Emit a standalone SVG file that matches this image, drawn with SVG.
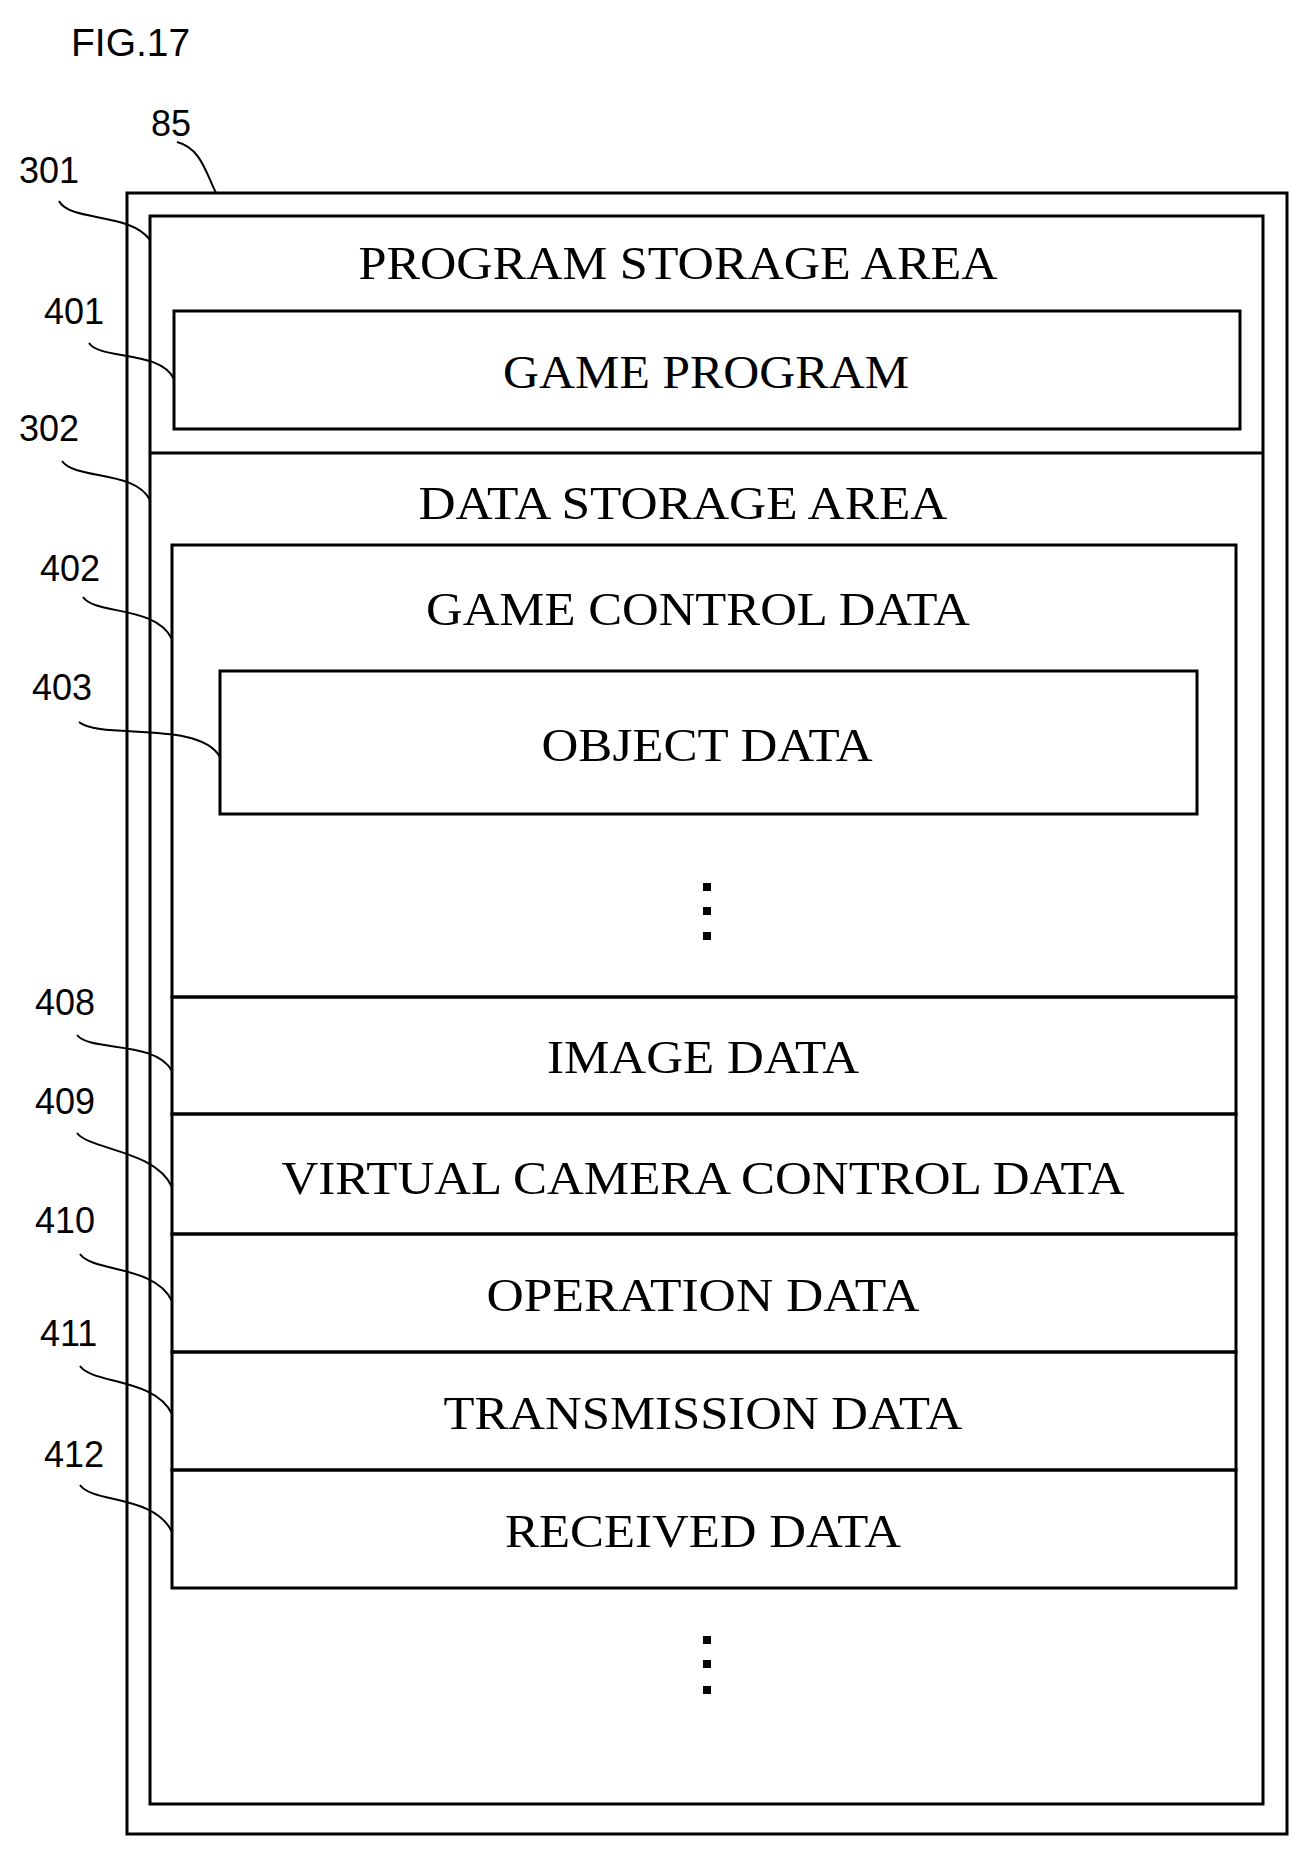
<svg xmlns="http://www.w3.org/2000/svg" width="1307" height="1852" viewBox="0 0 1307 1852">
<style>
.b{fill:none;stroke:#000;stroke-width:3}
.t{font-family:"Liberation Serif",serif;font-size:46px;text-anchor:middle}
.n{font-family:"Liberation Sans",sans-serif;font-size:36px}
.l{fill:none;stroke:#000;stroke-width:2}
</style>
<rect width="1307" height="1852" fill="#fff"/>
<text class="n" x="71" y="56" style="font-size:39px">FIG.17</text>
<g id="n85"><rect class="b" x="127" y="193" width="1160" height="1641"/></g>
<g id="n301"><rect class="b" x="150" y="216" width="1113" height="1588"/><line class="b" x1="150" y1="453" x2="1263" y2="453"/>
<text class="t" x="678" y="279" textLength="639" lengthAdjust="spacingAndGlyphs">PROGRAM STORAGE AREA</text></g>
<g id="n401"><rect class="b" x="174" y="311" width="1066" height="118"/><text class="t" x="706" y="388" textLength="406" lengthAdjust="spacingAndGlyphs">GAME PROGRAM</text></g>
<g id="n302"><text class="t" x="683" y="519" textLength="529" lengthAdjust="spacingAndGlyphs">DATA STORAGE AREA</text></g>
<g id="n402"><rect class="b" x="172" y="545" width="1064" height="452"/><text class="t" x="698" y="625" textLength="544" lengthAdjust="spacingAndGlyphs">GAME CONTROL DATA</text>
<g fill="#000"><rect x="703" y="883" width="8" height="8"/><rect x="703" y="907" width="8" height="8"/><rect x="703" y="932" width="8" height="8"/></g></g>
<g id="n403"><rect class="b" x="220" y="671" width="977" height="143"/><text class="t" x="707" y="761" textLength="331" lengthAdjust="spacingAndGlyphs">OBJECT DATA</text></g>
<g id="n408"><rect class="b" x="172" y="997" width="1064" height="117"/><text class="t" x="703" y="1073" textLength="312" lengthAdjust="spacingAndGlyphs">IMAGE DATA</text></g>
<g id="n409"><rect class="b" x="172" y="1114" width="1064" height="120"/><text class="t" x="703" y="1194" textLength="843" lengthAdjust="spacingAndGlyphs">VIRTUAL CAMERA CONTROL DATA</text></g>
<g id="n410"><rect class="b" x="172" y="1234" width="1064" height="118"/><text class="t" x="703" y="1311" textLength="433" lengthAdjust="spacingAndGlyphs">OPERATION DATA</text></g>
<g id="n411"><rect class="b" x="172" y="1352" width="1064" height="118"/><text class="t" x="703" y="1429" textLength="519" lengthAdjust="spacingAndGlyphs">TRANSMISSION DATA</text></g>
<g id="n412"><rect class="b" x="172" y="1470" width="1064" height="118"/><text class="t" x="703" y="1547" textLength="396" lengthAdjust="spacingAndGlyphs">RECEIVED DATA</text></g>
<g fill="#000"><rect x="703" y="1636" width="8" height="8"/><rect x="703" y="1660" width="8" height="8"/><rect x="703" y="1686" width="8" height="8"/></g>
<g id="labels">
<text class="n" x="151" y="136">85</text>
<text class="n" x="19" y="183">301</text>
<text class="n" x="44" y="324">401</text>
<text class="n" x="19" y="441">302</text>
<text class="n" x="40" y="581">402</text>
<text class="n" x="32" y="700">403</text>
<text class="n" x="35" y="1015">408</text>
<text class="n" x="35" y="1114">409</text>
<text class="n" x="35" y="1233">410</text>
<text class="n" x="40" y="1346">411</text>
<text class="n" x="44" y="1467">412</text>
</g>
<g id="connectors">
<path class="l" d="M177,142 C200,148 205,170 216,193"/>
<path class="l" d="M59,201 C70,222 130,212 150,240"/>
<path class="l" d="M89,343 C100,360 160,350 174,379"/>
<path class="l" d="M62,461 C75,480 135,470 150,500"/>
<path class="l" d="M83,597 C95,615 155,605 172,639"/>
<path class="l" d="M79,722 C100,740 200,720 220,757"/>
<path class="l" d="M77,1035 C90,1052 155,1040 172,1071"/>
<path class="l" d="M77,1133 C90,1150 155,1150 172,1187"/>
<path class="l" d="M80,1254 C92,1272 155,1265 172,1301"/>
<path class="l" d="M80,1366 C92,1384 155,1378 172,1414"/>
<path class="l" d="M80,1485 C92,1503 155,1495 172,1532"/>
</g>
</svg>
